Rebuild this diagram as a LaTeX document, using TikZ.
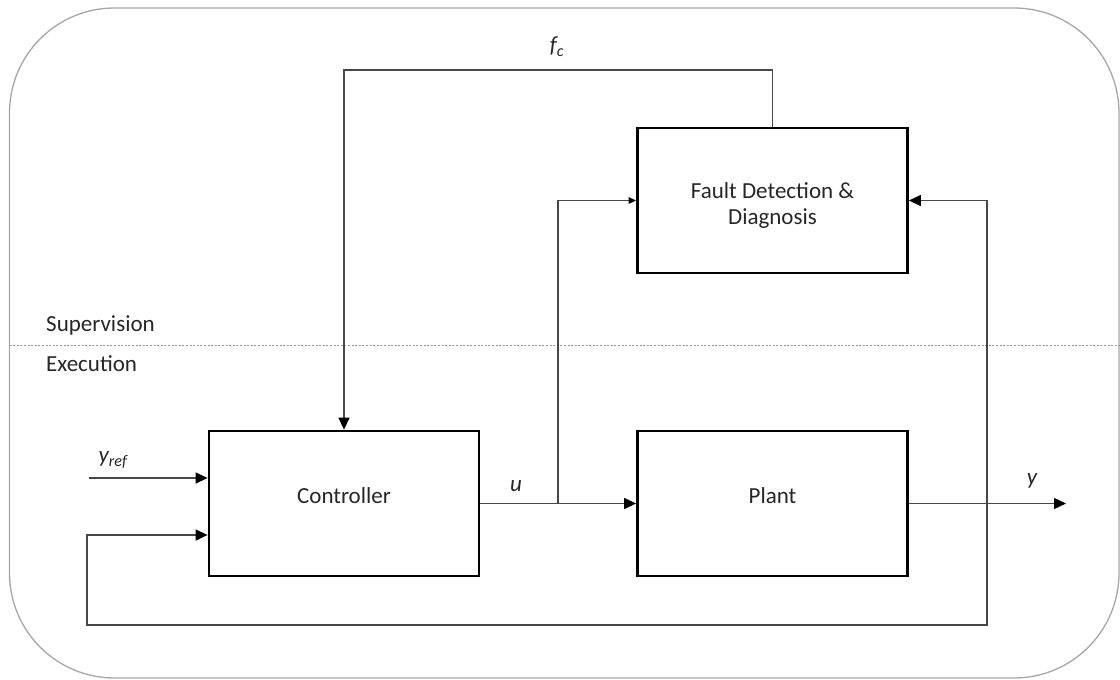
\documentclass[tikz,border=0pt]{standalone}
\usepackage{fontspec}
\setmainfont{Carlito}
\usetikzlibrary{arrows.meta,calc}
% box text: zero-size box so the baseline sits at the block centre
\newcommand{\blocktext}[2][0pt]{\raisebox{#1}[0pt][0pt]{#2}}
\begin{document}
\begin{tikzpicture}[x=1pt,y=-1pt,
  blockbox/.style={draw=black,line width=2.8pt,minimum width=270pt,minimum height=145pt,inner sep=0pt,font=\fontsize{23}{26}\selectfont,text=black!85,align=center},
  wire/.style={draw=black!72,line width=1.4pt},
  tip/.style={-{Triangle[length=12pt,width=11pt,color=black]}},
  smalltip/.style={-{Triangle[length=7.5pt,width=6.5pt,color=black]}},
  lbl/.style={font=\fontsize{23}{27}\selectfont\itshape,text=black!85,inner sep=0pt},
  layer/.style={font=\fontsize{23}{27}\selectfont,text=black!85,inner sep=0pt,anchor=base west}]
\useasboundingbox (0,0) rectangle (1120,680);
% outer frame
\draw[black!35,line width=1.3pt,rounded corners=105pt] (9.5,8) rectangle (1119,678);
% layer separator
\draw[black!40,line width=0.8pt,dash pattern=on 2pt off 1.6pt] (9.5,345) -- (1120,345);
\node[layer] (sup) at (46,331) {Supervision};
\node[layer] (exe) at (46,371) {Execution};
% blocks
\node[blockbox] (fdd) at (772.5,200.5) {\blocktext[-12pt]{\begin{tabular}{@{}c@{}}Fault Detection \&\\Diagnosis\end{tabular}}};
\node[blockbox] (ctrl) at (344,503.5) {\blocktext{Controller}};
\node[blockbox] (plant) at (772.5,503.5) {\blocktext{Plant}};
% helper points
\coordinate (ju) at (558,503.5);
\coordinate (jy) at (987,503.5);
\coordinate (yout) at (1066,503.5);
\coordinate (fctop) at (772.5,70);
\coordinate (fbbot) at (987,625);
\coordinate (fbleft) at (87,625);
\coordinate (yrefstart) at (89,478);
\coordinate (ctrlref) at (ctrl.west |- yrefstart);
\coordinate (ctrlfb) at ($(ctrl.west)+(0,31.5)$);
% connectors
\draw[wire,tip] (ctrl.east) -- (plant.west);
\draw[wire,smalltip] (ju) |- (fdd.west);
\draw[wire,tip] (plant.east) -- (yout);
\draw[wire,tip] (jy) |- (fdd.east);
\draw[wire,tip] (jy) -- (fbbot) -- (fbleft) |- (ctrlfb);
\draw[wire,tip] (yrefstart) -- (ctrlref);
\draw[wire,tip] (fdd.north) -- (fctop) -| (ctrl.north);
% signal labels
\node[lbl] (fc) at (557,47) {f\textsubscript{c}};
\node[lbl] (u) at (516,486) {u};
\node[lbl] (y) at (1032,481) {y};
\node[lbl] (yref) at (113,460) {y\textsubscript{ref}};
\end{tikzpicture}
\end{document}
